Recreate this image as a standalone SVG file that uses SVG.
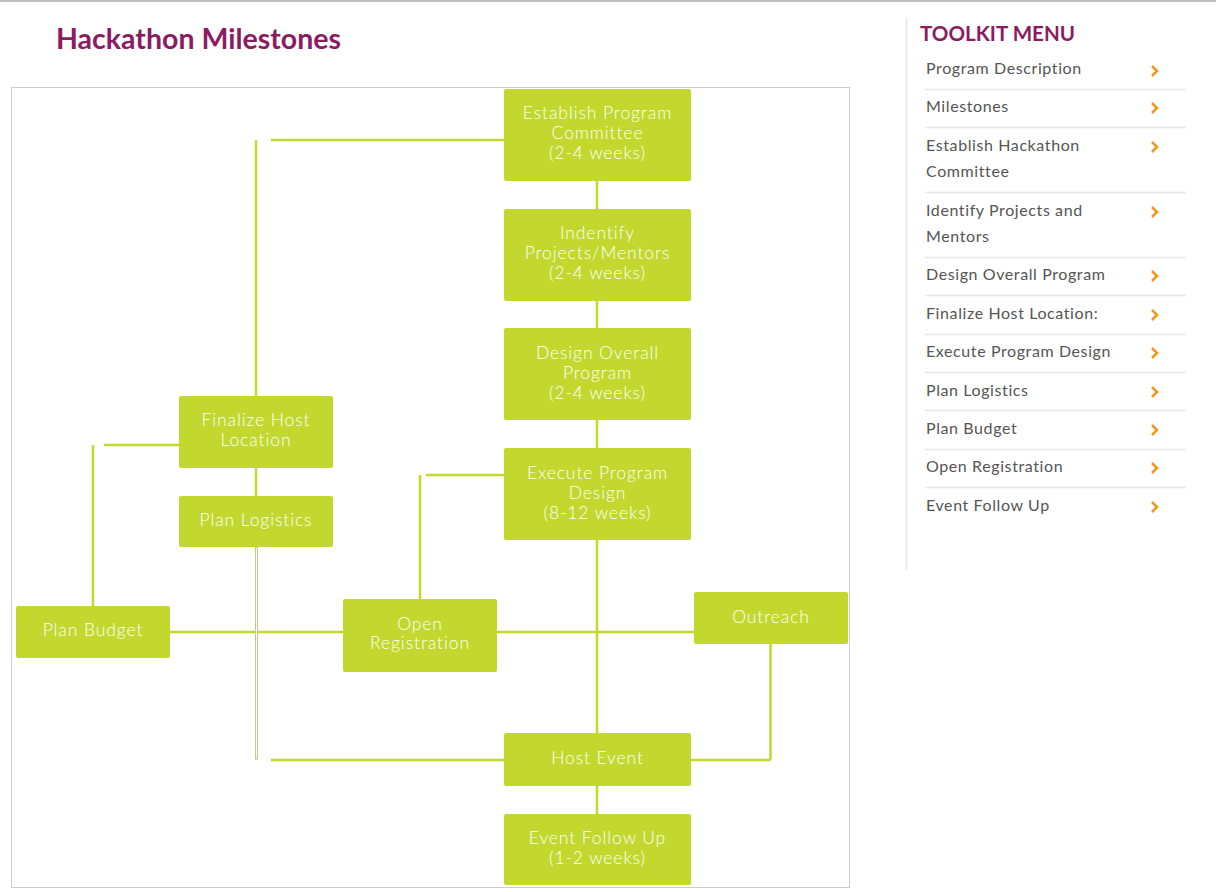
<svg xmlns="http://www.w3.org/2000/svg" width="1216" height="892" viewBox="0 0 1216 892">
<style>
.node rect{fill:#c2d82e;}
.node text{fill:#ffffff;font-family:Lato,"Open Sans","Liberation Sans",sans-serif;font-weight:300;font-size:17.5px;letter-spacing:0.9px;text-anchor:middle;}
.conn line{stroke:#c2d82e;stroke-width:2.5;fill:none;}
.menu text{fill:#555555;font-family:Lato,"Open Sans","Liberation Sans",sans-serif;font-size:16px;letter-spacing:0.6px;}
.menu line.sep{stroke:#e6e6e6;stroke-width:1.5;}
.chev{fill:none;stroke:#f7941d;stroke-width:2.5;}
.title{fill:#8b1c62;font-family:Lato,"Open Sans","Liberation Sans",sans-serif;font-weight:bold;}
</style>
<rect width="1216" height="892" fill="#ffffff"/>
<rect x="0" y="0" width="1216" height="2" fill="#bdbdbd"/>
<text class="title" x="56" y="49" font-size="28" textLength="285" lengthAdjust="spacingAndGlyphs">Hackathon Milestones</text>
<rect x="11.5" y="87.5" width="838" height="800" fill="none" stroke="#cccccc" stroke-width="1"/>

<g id="connectors" class="conn">
  <line x1="597" y1="180" x2="597" y2="209"/>
  <line x1="597" y1="300" x2="597" y2="328"/>
  <line x1="597" y1="420" x2="597" y2="448"/>
  <line x1="597" y1="540" x2="597" y2="733"/>
  <line x1="597" y1="786" x2="597" y2="814"/>
  <line x1="271" y1="140" x2="504" y2="140"/>
  <line x1="256" y1="140" x2="256" y2="396"/>
  <line x1="256" y1="468" x2="256" y2="496"/>
  <line x1="104" y1="445" x2="179" y2="445"/>
  <line x1="93" y1="445" x2="93" y2="606"/>
  <line x1="170" y1="632" x2="343" y2="632"/>
  <line x1="497" y1="632" x2="694" y2="632"/>
  <line x1="420" y1="475" x2="420" y2="599"/>
  <line x1="426" y1="475" x2="504" y2="475"/>
  <line x1="271" y1="760" x2="504" y2="760"/>
  <line x1="770.5" y1="644" x2="770.5" y2="760"/>
  <line x1="691" y1="760" x2="770.5" y2="760"/>
  <rect x="255.5" y="547" width="2" height="212" fill="#ffffff" stroke="#bfc98a" stroke-width="1"/>
</g>

<g id="node-establish" class="node">
  <rect x="504" y="89" width="187" height="92" rx="2"/>
  <text x="597.5" y="119">Establish Program</text>
  <text x="597.5" y="139">Committee</text>
  <text x="597.5" y="159">(2-4 weeks)</text>
</g>
<g id="node-identify" class="node">
  <rect x="504" y="209" width="187" height="92" rx="2"/>
  <text x="597.5" y="239">Indentify</text>
  <text x="597.5" y="259">Projects/Mentors</text>
  <text x="597.5" y="279">(2-4 weeks)</text>
</g>
<g id="node-design" class="node">
  <rect x="504" y="328" width="187" height="92" rx="2"/>
  <text x="597.5" y="359">Design Overall</text>
  <text x="597.5" y="379">Program</text>
  <text x="597.5" y="399">(2-4 weeks)</text>
</g>
<g id="node-execute" class="node">
  <rect x="504" y="448" width="187" height="92" rx="2"/>
  <text x="597.5" y="479">Execute Program</text>
  <text x="597.5" y="499">Design</text>
  <text x="597.5" y="519">(8-12 weeks)</text>
</g>
<g id="node-host" class="node">
  <rect x="504" y="733" width="187" height="53" rx="2"/>
  <text x="597.5" y="764">Host Event</text>
</g>
<g id="node-followup" class="node">
  <rect x="504" y="814" width="187" height="71" rx="2"/>
  <text x="597.5" y="844">Event Follow Up</text>
  <text x="597.5" y="864">(1-2 weeks)</text>
</g>
<g id="node-outreach" class="node">
  <rect x="694" y="592" width="154" height="52" rx="2"/>
  <text x="771" y="623">Outreach</text>
</g>
<g id="node-openreg" class="node">
  <rect x="343" y="599" width="154" height="73" rx="2"/>
  <text x="420" y="630">Open</text>
  <text x="420" y="649">Registration</text>
</g>
<g id="node-budget" class="node">
  <rect x="16" y="606" width="154" height="52" rx="2"/>
  <text x="93" y="636">Plan Budget</text>
</g>
<g id="node-finalize" class="node">
  <rect x="179" y="396" width="154" height="72" rx="2"/>
  <text x="256" y="426">Finalize Host</text>
  <text x="256" y="446">Location</text>
</g>
<g id="node-logistics" class="node">
  <rect x="179" y="496" width="154" height="51" rx="2"/>
  <text x="256" y="526">Plan Logistics</text>
</g>

<g id="sidebar" class="menu">
  <line x1="906.5" y1="18" x2="906.5" y2="570" stroke="#e6e6e6" stroke-width="1.5"/>
  <text class="title" x="920" y="41" textLength="155" lengthAdjust="spacingAndGlyphs" style="fill:#8b1c62;letter-spacing:0;font-size:21px;font-weight:bold">TOOLKIT MENU</text>
  <text x="926" y="74">Program Description</text>
  <line class="sep" x1="925" y1="89.5" x2="1186" y2="89.5"/>
  <text x="926" y="112">Milestones</text>
  <line class="sep" x1="925" y1="127.5" x2="1186" y2="127.5"/>
  <text x="926" y="151">Establish Hackathon</text>
  <text x="926" y="177">Committee</text>
  <line class="sep" x1="925" y1="192.5" x2="1186" y2="192.5"/>
  <text x="926" y="216">Identify Projects and</text>
  <text x="926" y="242">Mentors</text>
  <line class="sep" x1="925" y1="257.5" x2="1186" y2="257.5"/>
  <text x="926" y="280">Design Overall Program</text>
  <line class="sep" x1="925" y1="295.5" x2="1186" y2="295.5"/>
  <text x="926" y="319">Finalize Host Location:</text>
  <line class="sep" x1="925" y1="334.5" x2="1186" y2="334.5"/>
  <text x="926" y="357">Execute Program Design</text>
  <line class="sep" x1="925" y1="372.5" x2="1186" y2="372.5"/>
  <text x="926" y="396">Plan Logistics</text>
  <line class="sep" x1="925" y1="410.5" x2="1186" y2="410.5"/>
  <text x="926" y="434">Plan Budget</text>
  <line class="sep" x1="925" y1="449.5" x2="1186" y2="449.5"/>
  <text x="926" y="472">Open Registration</text>
  <line class="sep" x1="925" y1="487.5" x2="1186" y2="487.5"/>
  <text x="926" y="511">Event Follow Up</text>
  <path class="chev" d="M1152,66 l5,5 l-5,5"/>
  <path class="chev" d="M1152,103 l5,5 l-5,5"/>
  <path class="chev" d="M1152,142 l5,5 l-5,5"/>
  <path class="chev" d="M1152,207 l5,5 l-5,5"/>
  <path class="chev" d="M1152,271 l5,5 l-5,5"/>
  <path class="chev" d="M1152,310 l5,5 l-5,5"/>
  <path class="chev" d="M1152,348 l5,5 l-5,5"/>
  <path class="chev" d="M1152,387 l5,5 l-5,5"/>
  <path class="chev" d="M1152,425 l5,5 l-5,5"/>
  <path class="chev" d="M1152,463 l5,5 l-5,5"/>
  <path class="chev" d="M1152,502 l5,5 l-5,5"/>
</g>
</svg>
